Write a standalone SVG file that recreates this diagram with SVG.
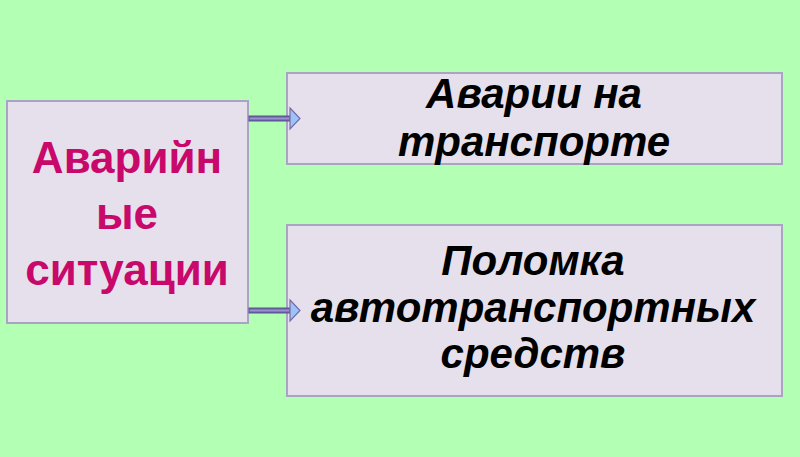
<svg xmlns="http://www.w3.org/2000/svg" width="800" height="457" viewBox="0 0 800 457">
<defs>
<style>
.box{fill:#E6E0EC;stroke:#A9A3C4;stroke-width:2}
.red{font-family:"Liberation Sans",Arial,sans-serif;font-weight:bold;font-size:44px;fill:#C8086A;text-anchor:middle}
.blk{font-family:"Liberation Sans",Arial,sans-serif;font-weight:bold;font-style:italic;font-size:42px;fill:#000;text-anchor:middle}
.shaft{fill:url(#sg);stroke:#5A5494;stroke-width:1}
.head{fill:#9CC3F5;stroke:#7A6AA8;stroke-width:1.2;stroke-linejoin:miter}
</style>
<linearGradient id="sg" x1="0" y1="0" x2="0" y2="1">
<stop offset="0" stop-color="#5A5494"/>
<stop offset="0.5" stop-color="#9A90D0"/>
<stop offset="1" stop-color="#5A5494"/>
</linearGradient>
</defs>
<rect width="800" height="457" fill="#B3FFB3"/>
<g id="node-main">
<rect class="box" x="7" y="101" width="241" height="222"/>
<text class="red" x="127" y="173">Аварийн</text>
<text class="red" x="127" y="229">ые</text>
<text class="red" x="127" y="285">ситуации</text>
</g>
<g id="node-transport">
<rect class="box" x="287" y="73" width="495" height="91"/>
<text class="blk" x="534" y="108">Аварии на</text>
<text class="blk" x="534" y="156">транспорте</text>
</g>
<g id="node-breakdown">
<rect class="box" x="287" y="225" width="495" height="171"/>
<text class="blk" x="533" y="275">Поломка</text>
<text class="blk" x="533" y="322">автотранспортных</text>
<text class="blk" x="533" y="368">средств</text>
</g>
<g id="connectors">
<g id="arrow1">
<rect class="shaft" x="249" y="116" width="41" height="5"/>
<polygon class="head" points="290,108 300,118.5 290,129"/>
</g>
<g id="arrow2">
<rect class="shaft" x="249" y="308" width="41" height="5"/>
<polygon class="head" points="290,300 300,310.5 290,321"/>
</g>
</g>
</svg>
